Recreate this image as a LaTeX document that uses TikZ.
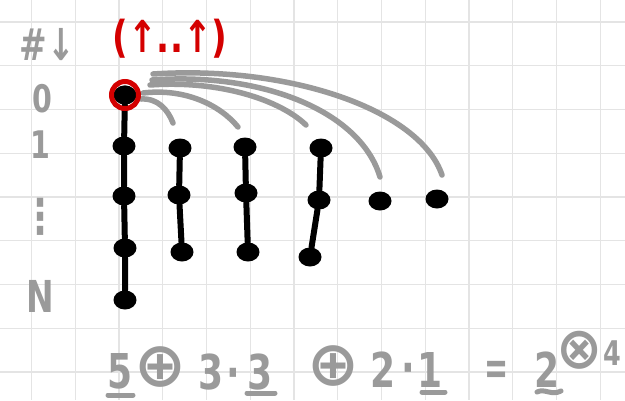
\documentclass[tikz,border=0pt]{standalone}
\usepackage{fontspec}
\usepackage{graphicx}
\setmainfont{DejaVu Sans}
\usetikzlibrary{shapes.geometric,backgrounds}
\definecolor{gridgray}{HTML}{E4E4E4}
\definecolor{pengray}{HTML}{9A9A9A}
\definecolor{penred}{HTML}{D40000}
\newcommand{\hw}[3]{\fontsize{#1}{#1}\selectfont\bfseries\scalebox{#2}[1]{#3}}
\begin{document}
\begin{tikzpicture}[x=1pt,y=-1pt,
  bead/.style={ellipse, fill=black, minimum width=23pt, minimum height=19pt, inner sep=0pt},
  stem/.style={line width=6pt, line cap=round, black},
  curvy/.style={line width=5.5pt, line cap=round, pengray},
  lbl/.style={text=pengray, inner sep=0pt},
  fml/.style={text=pengray, inner sep=0pt, anchor=base},
  uline/.style={line width=5pt, line cap=round, pengray},
  gridline/.style={gridgray, line width=1.3pt}]
\useasboundingbox (0,0) rectangle (625,400);

% nodes
\node[bead] (root) at (125,95) {};
\node[bead] (a1) at (124,146) {};
\node[bead] (a2) at (124,196) {};
\node[bead] (a3) at (125,248) {};
\node[bead] (a4) at (125,300) {};
\node[bead] (b1) at (180,148) {};
\node[bead] (b2) at (179,195) {};
\node[bead] (b3) at (182,252) {};
\node[bead] (c1) at (245,147) {};
\node[bead] (c2) at (246,193) {};
\node[bead] (c3) at (248,252) {};
\node[bead] (d1) at (321,148) {};
\node[bead] (d2) at (319,200) {};
\node[bead] (d3) at (310,257) {};
\node[bead] (e1) at (380,201) {};
\node[bead] (f1) at (437,199) {};
\node[circle, draw=penred, line width=5pt, minimum size=27pt, inner sep=0pt] (ring) at (root) {};
\node[bead, minimum width=20pt, minimum height=19pt] at (root) {};

% arc end points
\coordinate (t1) at (173,123);
\coordinate (t2) at (238,127);
\coordinate (t3) at (306,125);
\coordinate (t4) at (380,177);
\coordinate (t5) at (442,175);

\begin{pgfonlayer}{background}
\fill[white] (0,0) rectangle (625,400);
\foreach \k in {0,...,13} \draw[gridline] ({31.5+43.75*\k},0) -- ({31.5+43.75*\k},400);
\foreach \k in {0,...,8} \draw[gridline] (0,{22+43.75*\k}) -- (625,{22+43.75*\k});
% gray arcs
\draw[curvy] ([shift={(16,4)}]root.center) .. controls (158,98) and (168,110) .. (t1);
\draw[curvy] ([shift={(18,-2)}]root.center) .. controls (185,88) and (220,105) .. (t2);
\draw[curvy] ([shift={(25,-10)}]root.center) .. controls (220,80) and (280,100) .. (t3);
\draw[curvy] ([shift={(27,-15)}]root.center) .. controls (260,72) and (360,110) .. (t4);
\draw[curvy] ([shift={(28,-21)}]root.center) .. controls (290,65) and (420,110) .. (t5);
% stems
\draw[stem] (root) -- (a1) -- (a2) -- (a3) -- (a4);
\draw[stem] (b1) -- (b2) -- (b3);
\draw[stem] (c1) -- (c2) -- (c3);
\draw[stem] (d1) -- (d2) -- (d3);
\end{pgfonlayer}

% left labels
\node[lbl] (hash) at (47,45) {\hw{44}{0.75}{\#↓}};
\node[lbl] (l0) at (42,99) {\hw{38}{0.75}{0}};
\node[lbl] (l1) at (40,145) {\hw{38}{0.75}{1}};
\node[lbl] (ldots) at (40,217) {\hw{48}{0.75}{⋮}};
\node[lbl] (lN) at (40,296) {\hw{44}{0.75}{N}};

% red label
\node[text=penred, inner sep=0pt] (tup) at (170,39) {\hw{44}{0.78}{(↑..↑)}};

% bottom formula
\node[fml] (n5) at (120,388) {\hw{48}{0.75}{5}};
\node[lbl] (op1) at (160,367) {\hw{62}{1}{⊕}};
\node[fml] (n3a) at (211,389) {\hw{48}{0.75}{3}};
\node[fml] (dt1) at (233,389) {\hw{48}{0.75}{·}};
\node[fml] (n3b) at (260,389) {\hw{48}{0.75}{3}};
\node[lbl] (op2) at (333,366) {\hw{62}{1}{⊕}};
\node[fml] (n2a) at (383,387) {\hw{48}{0.75}{2}};
\node[fml] (dt2) at (408,384) {\hw{48}{0.75}{·}};
\node[fml] (n1) at (430,387) {\hw{48}{0.75}{1}};
\node[fml] (eq) at (497,384) {\hw{48}{0.6}{=}};
\node[fml] (n2b) at (547,387) {\hw{48}{0.75}{2}};
\node[lbl] (otim) at (580,350) {\hw{58}{0.95}{⊗}};
\node[lbl] (n4) at (612,353) {\hw{34}{0.75}{4}};

% underlines
\draw[uline] ([shift={(-12,7)}]n5.base) -- ([shift={(13,7)}]n5.base);
\draw[uline] ([shift={(-13,4)}]n3b.base) -- ([shift={(15,4)}]n3b.base);
\draw[uline] ([shift={(-8,5)}]n1.base) -- ([shift={(15,5)}]n1.base);
\draw[uline] ([shift={(-10,5)}]n2b.base) .. controls ([shift={(-2,1)}]n2b.base) and ([shift={(4,9)}]n2b.base) .. ([shift={(14,4)}]n2b.base);
\end{tikzpicture}
\end{document}
